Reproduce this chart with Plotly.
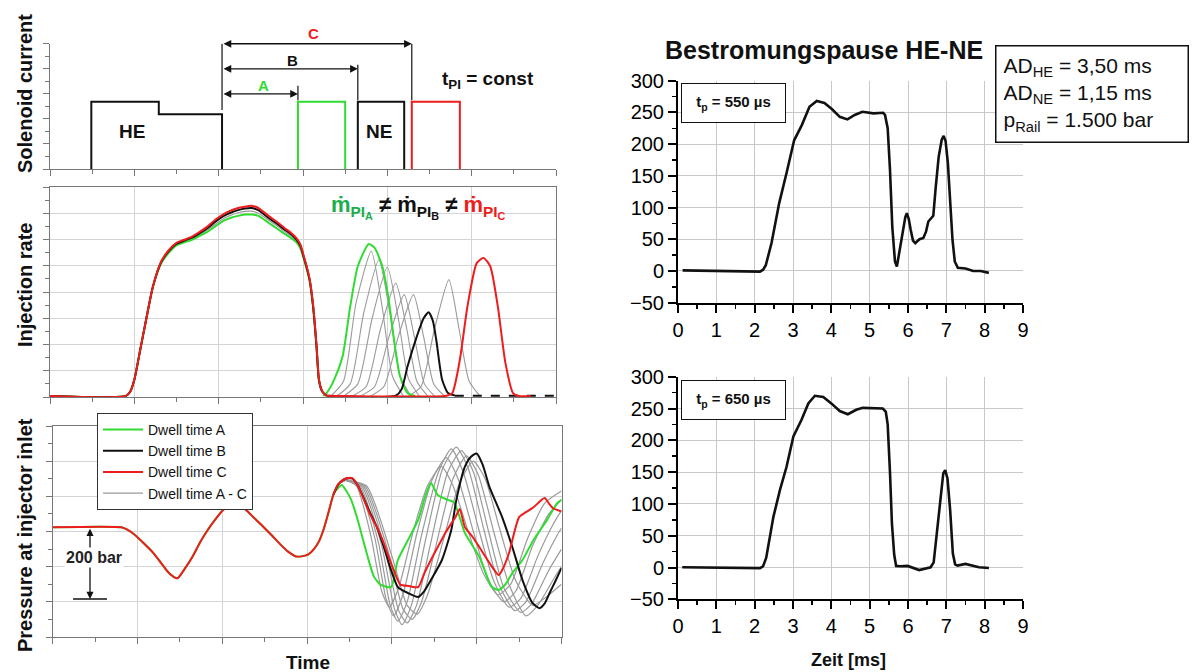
import plotly.graph_objects as go

W, H = 1197, 672


def px_x(p):
    return p / W


def px_y(p):
    return 1 - p / H


FONT = "Liberation Sans, Arial, Helvetica, sans-serif"
GREEN = "#2fdc2f"
GREEN_TXT = "#1aae4c"
RED = "#ee1c1c"
BLACK = "#111111"
GRAY = "#9a9a9a"

# ---------------- data: solenoid current (left top) ----------------
SOL_HE_X = [0.49, 0.49, 1.29, 1.29, 2.04, 2.04]
SOL_HE_Y = [0, 2.69, 2.69, 2.19, 2.19, 0]
SOL_A_X = [2.94, 2.94, 3.50, 3.50]
SOL_B_X = [3.65, 3.65, 4.20, 4.20]
SOL_C_X = [4.29, 4.29, 4.86, 4.86]
SOL_PULSE_Y = [0, 2.69, 2.69, 0]
DWELL_START = 2.04
DWELL_END = {"A": 2.94, "B": 3.65, "C": 4.29}
DWELL_LEVEL = {"A": 3.0, "B": 4.0, "C": 5.0}

# ---------------- data: injection rate (left middle) ----------------
INJ_MAIN_X = [0.0, 0.90, 0.95, 1.00, 1.07, 1.14, 1.22, 1.32, 1.41, 1.50, 1.60, 1.69, 1.78, 1.87,
              1.96, 2.05, 2.14, 2.23, 2.31, 2.39, 2.47, 2.60, 2.70, 2.78, 2.86, 2.92, 2.97, 3.01,
              3.05, 3.08, 3.12, 3.16, 3.19, 3.23, 3.28]
INJ_RED_Y = [0.04, 0.04, 0.2, 0.66, 1.8, 2.95, 4.2, 5.17, 5.6, 5.87, 6.0, 6.12, 6.3, 6.5, 6.75,
             6.95, 7.1, 7.2, 7.25, 7.29, 7.2, 6.88, 6.65, 6.44, 6.25, 6.06, 5.8, 5.36, 4.9, 4.47,
             3.5, 2.0, 0.66, 0.2, 0.05]
INJ_GREEN_Y = [0.04, 0.04, 0.2, 0.66, 1.8, 2.95, 4.2, 5.1, 5.5, 5.78, 5.9, 6.0, 6.15, 6.3, 6.5,
               6.7, 6.82, 6.9, 6.95, 6.95, 6.9, 6.62, 6.4, 6.22, 6.05, 5.9, 5.65, 5.25, 4.8, 4.4,
               3.4, 1.9, 0.6, 0.2, 0.05]
INJ_BLACK_Y = [0.04, 0.04, 0.2, 0.66, 1.8, 2.95, 4.2, 5.15, 5.57, 5.84, 5.97, 6.08, 6.25, 6.44,
               6.68, 6.88, 7.02, 7.12, 7.18, 7.2, 7.12, 6.8, 6.58, 6.38, 6.2, 6.0, 5.75, 5.32,
               4.86, 4.44, 3.45, 1.95, 0.63, 0.2, 0.05]
INJ_GRAY_Y = [0.04, 0.04, 0.2, 0.66, 1.8, 2.95, 4.2, 5.12, 5.53, 5.8, 5.93, 6.04, 6.2, 6.37,
              6.58, 6.78, 6.92, 7.02, 7.07, 7.08, 7.0, 6.72, 6.5, 6.3, 6.12, 5.95, 5.7, 5.3,
              4.83, 4.42, 3.42, 1.92, 0.62, 0.2, 0.05]

INJ_GREEN2_X = [3.24, 3.28, 3.37, 3.47, 3.56, 3.65, 3.78, 3.85, 3.94, 4.01, 4.08, 4.15, 4.24, 4.33]
INJ_GREEN2_Y = [0.04, 0.15, 0.66, 1.55, 3.45, 4.98, 5.83, 5.68, 4.98, 3.83, 2.18, 0.79, 0.15, 0.04]
INJ_BLACK2_X = [3.28, 4.10, 4.17, 4.24, 4.35, 4.43, 4.49, 4.54, 4.58, 4.65, 4.72, 4.80]
INJ_BLACK2_Y = [0.05, 0.05, 0.3, 1.17, 2.31, 3.0, 3.23, 2.9, 2.18, 0.66, 0.15, 0.06]
INJ_BLACK_TAIL_X = [4.80, 6.0]
INJ_BLACK_TAIL_Y = [0.05, 0.05]
INJ_RED2_X = [3.28, 4.70, 4.77, 4.86, 4.95, 5.06, 5.14, 5.22, 5.31, 5.40, 5.49, 5.56, 5.70]
INJ_RED2_Y = [0.05, 0.05, 0.15, 1.42, 3.45, 5.1, 5.3, 4.98, 3.45, 1.3, 0.15, 0.04, 0.04]
INJ_GRAY2 = [
    ([3.33, 3.48, 3.63, 3.81, 3.94, 4.06, 4.19], [0.03, 0.6, 3.6, 5.55, 3.4, 0.8, 0.03]),
    ([3.40, 3.56, 3.72, 3.90, 4.03, 4.15, 4.28], [0.03, 0.5, 3.2, 5.23, 3.2, 0.8, 0.03]),
    ([3.48, 3.65, 3.82, 4.00, 4.13, 4.25, 4.38], [0.03, 0.5, 3.0, 4.95, 3.0, 0.7, 0.03]),
    ([3.58, 3.75, 3.92, 4.10, 4.23, 4.35, 4.48], [0.03, 0.4, 2.6, 4.34, 2.6, 0.6, 0.03]),
    ([3.68, 3.85, 4.02, 4.20, 4.32, 4.44, 4.56], [0.03, 0.4, 2.3, 3.90, 2.3, 0.5, 0.03]),
    ([3.80, 3.96, 4.13, 4.31, 4.43, 4.55, 4.68], [0.03, 0.4, 2.3, 3.90, 2.3, 0.5, 0.03]),
    ([4.25, 4.40, 4.56, 4.73, 4.85, 4.97, 5.10], [0.03, 0.4, 2.6, 4.47, 2.6, 0.6, 0.03]),
]

# ---------------- data: pressure at injector inlet (left bottom) ----------------
P_COMMON_X = [0.0, 0.81, 0.88, 0.97, 1.08, 1.19, 1.28, 1.37, 1.47, 1.56, 1.65, 1.74, 1.83, 1.92,
              2.01, 2.08, 2.15, 2.22, 2.28, 2.37, 2.46, 2.58, 2.69, 2.78, 2.87, 2.95, 3.01, 3.08,
              3.14, 3.20, 3.26, 3.31]
P_COMMON_Y = [3.12, 3.12, 3.05, 2.9, 2.65, 2.38, 2.1, 1.82, 1.67, 1.95, 2.29, 2.7, 3.05, 3.35,
              3.61, 3.72, 3.78, 3.72, 3.61, 3.4, 3.19, 2.9, 2.62, 2.42, 2.29, 2.3, 2.34, 2.5,
              2.72, 3.1, 3.61, 4.05]
P_RED_X = [3.37, 3.45, 3.53, 3.60, 3.67, 3.75, 3.82, 3.90, 3.96, 4.03, 4.10, 4.20, 4.31, 4.38,
           4.46, 4.55, 4.64, 4.72, 4.75, 4.80, 4.86, 4.95, 5.03, 5.18, 5.26, 5.32, 5.38, 5.50,
           5.58, 5.67, 5.80, 5.85, 5.90, 6.0]
P_RED_Y = [4.35, 4.5, 4.52, 4.3, 3.9, 3.45, 3.14, 2.7, 2.29, 1.85, 1.49, 1.45, 1.42, 1.8, 2.19,
           2.6, 3.0, 3.3, 3.41, 3.64, 3.13, 2.85, 2.56, 2.0, 1.76, 2.0, 2.38, 3.41, 3.55, 3.69,
           3.95, 3.8, 3.66, 3.57]
P_GREEN_X = [3.37, 3.41, 3.45, 3.52, 3.60, 3.67, 3.73, 3.79, 3.87, 3.99, 4.07, 4.19, 4.31, 4.39,
             4.46, 4.54, 4.66, 4.73, 4.80, 4.86, 5.03, 5.18, 5.26, 5.34, 5.42, 5.54, 5.67, 5.83,
             5.95, 6.0]
P_GREEN_Y = [4.25, 4.32, 4.2, 3.9, 3.3, 2.67, 2.15, 1.71, 1.48, 1.42, 2.19, 2.76, 3.33, 3.98,
             4.38, 4.04, 3.9, 3.84, 3.4, 2.96, 2.28, 1.42, 1.34, 1.5, 1.82, 2.19, 2.76, 3.33,
             3.81, 3.9]
P_BLACK_X = [3.37, 3.45, 3.53, 3.60, 3.73, 3.82, 3.90, 3.99, 4.07, 4.19, 4.31, 4.38, 4.46, 4.59,
             4.70, 4.76, 4.86, 4.93, 5.00, 5.07, 5.15, 5.30, 5.42, 5.54, 5.66, 5.74, 5.80, 5.86,
             5.93, 6.0]
P_BLACK_Y = [4.35, 4.5, 4.51, 4.3, 3.6, 3.14, 2.6, 1.9, 1.42, 1.25, 1.14, 1.3, 1.62, 2.19, 3.04,
             3.9, 4.84, 5.12, 5.22, 4.9, 4.27, 3.41, 2.56, 1.62, 0.96, 0.82, 0.95, 1.25, 1.6, 1.96]
P_GRAY = [
    ([3.37, 3.45, 3.58, 3.75, 3.88, 3.97, 4.08, 4.25, 4.42, 4.58, 4.72, 4.90, 5.08, 5.25, 5.40, 5.60, 5.80, 6.0],
     [4.35, 4.45, 4.3, 2.9, 1.3, 0.85, 1.4, 3.0, 4.3, 4.85, 4.3, 3.0, 1.8, 1.2, 1.5, 2.8, 3.8, 4.15]),
    ([3.37, 3.45, 3.60, 3.80, 3.93, 4.02, 4.13, 4.30, 4.48, 4.64, 4.78, 4.96, 5.14, 5.32, 5.46, 5.66, 5.85, 6.0],
     [4.35, 4.45, 4.3, 2.8, 1.1, 0.6, 1.2, 3.0, 4.5, 5.1, 4.5, 3.0, 1.6, 1.0, 1.3, 2.6, 3.5, 3.9]),
    ([3.37, 3.45, 3.62, 3.84, 3.98, 4.07, 4.18, 4.35, 4.55, 4.70, 4.84, 5.02, 5.20, 5.38, 5.52, 5.72, 5.90, 6.0],
     [4.35, 4.45, 4.3, 2.7, 0.9, 0.45, 1.0, 2.9, 4.7, 5.35, 4.7, 3.1, 1.6, 0.85, 1.1, 2.3, 3.2, 3.6]),
    ([3.37, 3.45, 3.64, 3.88, 4.03, 4.12, 4.23, 4.40, 4.60, 4.76, 4.90, 5.08, 5.26, 5.45, 5.58, 5.78, 5.95, 6.0],
     [4.35, 4.45, 4.3, 2.6, 0.8, 0.35, 0.9, 2.8, 4.8, 5.4, 4.8, 3.1, 1.5, 0.75, 1.0, 2.1, 2.9, 3.1]),
    ([3.37, 3.45, 3.66, 3.92, 4.08, 4.18, 4.29, 4.46, 4.66, 4.82, 4.96, 5.14, 5.32, 5.52, 5.65, 5.85, 6.0],
     [4.35, 4.45, 4.3, 2.5, 0.75, 0.4, 0.9, 2.7, 4.7, 5.3, 4.7, 3.0, 1.4, 0.7, 0.95, 1.9, 2.5]),
    ([3.37, 3.45, 3.68, 3.96, 4.13, 4.24, 4.35, 4.52, 4.72, 4.88, 5.02, 5.20, 5.38, 5.58, 5.72, 5.92, 6.0],
     [4.35, 4.45, 4.3, 2.4, 0.8, 0.5, 1.0, 2.6, 4.5, 5.15, 4.6, 3.0, 1.5, 0.6, 0.9, 1.7, 2.0]),
    ([3.37, 3.45, 3.70, 4.00, 4.18, 4.30, 4.42, 4.60, 4.80, 4.96, 5.10, 5.28, 5.46, 5.66, 5.80, 6.0],
     [4.35, 4.45, 4.3, 2.3, 0.9, 0.65, 1.2, 2.7, 4.4, 5.0, 4.5, 3.0, 1.6, 0.9, 1.1, 1.5]),
]
LEGEND_NAMES = ["Dwell time A", "Dwell time B", "Dwell time C", "Dwell time A - C"]
BAR_TOP, BAR_BOTTOM = 3.12, 1.08  # 200 bar reference

# ---------------- data: Bestromungspause HE-NE (right) ----------------
TP550_X = [0.12, 1.06, 2.14, 2.22, 2.29, 2.44, 2.64, 2.83, 3.03, 3.23, 3.43, 3.62, 3.82, 4.02,
           4.22, 4.42, 4.61, 4.81, 5.10, 5.35, 5.40, 5.47, 5.53, 5.59, 5.66, 5.71, 5.78, 5.85,
           5.93, 5.97, 6.02, 6.07, 6.13, 6.19, 6.30, 6.40, 6.47, 6.53, 6.60, 6.66, 6.72, 6.80,
           6.88, 6.93, 6.98, 7.04, 7.10, 7.16, 7.22, 7.30, 7.50, 7.70, 7.90, 8.00, 8.11]
TP550_Y = [1, 0.5, -1, 2, 9, 44, 107, 154, 206, 230, 259, 268, 265, 255, 243, 239, 246, 251,
           248.5, 249.5, 246, 225, 160, 70, 15, 7, 30, 55, 85, 91, 82, 65, 48, 44, 50, 52, 62,
           78, 82, 87, 130, 180, 207, 213, 205, 170, 110, 50, 15, 5, 4, 0, 0, -1, -3]
TP650_X = [0.11, 1.10, 2.14, 2.22, 2.30, 2.49, 2.66, 2.83, 3.01, 3.22, 3.40, 3.57, 3.79, 4.00,
           4.22, 4.43, 4.65, 4.82, 5.08, 5.34, 5.42, 5.47, 5.53, 5.58, 5.64, 5.69, 5.80, 5.99,
           6.29, 6.59, 6.67, 6.76, 6.85, 6.92, 6.97, 7.03, 7.10, 7.17, 7.23, 7.29, 7.50, 7.85,
           8.11]
TP650_Y = [0.4, -0.7, -1, 2, 15, 80, 122, 158, 206, 232, 258, 270, 268, 258, 246, 241, 248, 251,
           250, 250, 245, 225, 150, 70, 20, 2.5, 2, 2.5, -4, 0.4, 8, 60, 117, 148, 153, 140, 90,
           22, 5, 3, 5.6, 0.4, -0.7]

# ---------------- figure ----------------
fig = go.Figure()


def line(x, y, xa, ya, color, width=2.0, dash="solid", shape="linear", **kw):
    fig.add_trace(go.Scatter(x=x, y=y, xaxis=xa, yaxis=ya, mode="lines",
                             line=dict(color=color, width=width, dash=dash, shape=shape,
                                       smoothing=0.6 if shape == "spline" else None),
                             hoverinfo="skip", showlegend=kw.pop("showlegend", False), **kw))


# solenoid
line(SOL_HE_X, SOL_HE_Y, "x", "y", BLACK)
line(SOL_A_X, SOL_PULSE_Y, "x", "y", GREEN)
line(SOL_B_X, SOL_PULSE_Y, "x", "y", BLACK)
line(SOL_C_X, SOL_PULSE_Y, "x", "y", RED)

# injection rate
line(INJ_MAIN_X, INJ_GRAY_Y, "x2", "y2", GRAY, 1.2, shape="spline")
for gx, gy in INJ_GRAY2:
    line(gx, gy, "x2", "y2", GRAY, 1.1, shape="spline")
line(INJ_MAIN_X, INJ_GREEN_Y, "x2", "y2", GREEN, 2, shape="spline")
line(INJ_GREEN2_X, INJ_GREEN2_Y, "x2", "y2", GREEN, 2, shape="spline")
line(INJ_MAIN_X, INJ_BLACK_Y, "x2", "y2", BLACK, 2, shape="spline")
line(INJ_BLACK2_X, INJ_BLACK2_Y, "x2", "y2", BLACK, 2, shape="spline")
line(INJ_BLACK_TAIL_X, INJ_BLACK_TAIL_Y, "x2", "y2", BLACK, 2, dash="dash")
line(INJ_MAIN_X, INJ_RED_Y, "x2", "y2", RED, 2, shape="spline")
line(INJ_RED2_X, INJ_RED2_Y, "x2", "y2", RED, 2, shape="spline")

# pressure
for i, (gx, gy) in enumerate(P_GRAY):
    line(P_COMMON_X[-1:] + gx, P_COMMON_Y[-1:] + gy, "x3", "y3", GRAY, 1.2, shape="spline",
         name=LEGEND_NAMES[3], legendgroup="gray", legendrank=4, showlegend=(i == 0))
line(P_COMMON_X + P_GREEN_X, P_COMMON_Y + P_GREEN_Y, "x3", "y3", GREEN, 2, shape="spline",
     name=LEGEND_NAMES[0], legendrank=1, showlegend=True)
line(P_COMMON_X[-1:] + P_BLACK_X, P_COMMON_Y[-1:] + P_BLACK_Y, "x3", "y3", BLACK, 2, shape="spline",
     name=LEGEND_NAMES[1], legendrank=2, showlegend=True)
line(P_COMMON_X + P_RED_X, P_COMMON_Y + P_RED_Y, "x3", "y3", RED, 2, shape="spline",
     name=LEGEND_NAMES[2], legendrank=3, showlegend=True)

# right
line(TP550_X, TP550_Y, "x4", "y4", BLACK, 2.6)
line(TP650_X, TP650_Y, "x5", "y5", BLACK, 2.6)

# ---------------- axes ----------------
def left_x(dom, grid, mirror):
    return dict(domain=dom, range=[0, 6], showgrid=grid, gridcolor="#d4d4d4", gridwidth=1,
                showline=True, linecolor="#777", linewidth=1.2, mirror=mirror,
                ticks="outside", ticklen=6, tickcolor="#777", tickwidth=1, dtick=1, tick0=0,
                showticklabels=False, zeroline=False, fixedrange=True,
                minor=dict(dtick=0.5, ticks="outside", ticklen=4, tickcolor="#777", showgrid=False))


def left_y(dom, rng, grid, mirror):
    return dict(domain=dom, range=rng, showgrid=grid, gridcolor="#d4d4d4", gridwidth=1,
                showline=True, linecolor="#777", linewidth=1.2, mirror=mirror,
                ticks="outside", ticklen=6, tickcolor="#777", tickwidth=1, dtick=1, tick0=0,
                showticklabels=False, zeroline=False, fixedrange=True,
                minor=dict(dtick=0.5, ticks="outside", ticklen=4, tickcolor="#777", showgrid=False))


def right_x(dom):
    return dict(domain=dom, range=[0, 9], dtick=1, tick0=0, showgrid=True, gridcolor="#c8c8c8",
                showline=True, linecolor="black", linewidth=2, ticks="outside", ticklen=8,
                tickwidth=2, tickcolor="black", zeroline=False, fixedrange=True,
                tickfont=dict(size=20, family=FONT, color="black"),
                minor=dict(dtick=0.5, ticks="outside", ticklen=4, tickwidth=1.5,
                           tickcolor="black", showgrid=False))


def right_y(dom):
    return dict(domain=dom, range=[-50, 300], dtick=50, tick0=0, showgrid=True, gridcolor="#c8c8c8",
                showline=True, linecolor="black", linewidth=2, ticks="outside", ticklen=8,
                tickwidth=2, tickcolor="black", zeroline=False, fixedrange=True,
                tickfont=dict(size=20, family=FONT, color="black"),
                minor=dict(dtick=25, ticks="outside", ticklen=4, tickwidth=1.5,
                           tickcolor="black", showgrid=False))


LX = [px_x(50), px_x(556)]
PX = [px_x(52.7), px_x(561.5)]
RX = [px_x(678), px_x(1023)]

fig.update_layout(
    xaxis=dict(left_x(LX, False, False), anchor="y"),
    yaxis=dict(left_y([px_y(169), px_y(43.8)], [0, 5], False, False), anchor="x"),
    xaxis2=dict(left_x(LX, True, True), anchor="y2"),
    yaxis2=dict(left_y([px_y(397), px_y(187)], [0, 8], True, True), anchor="x2"),
    xaxis3=dict(left_x(PX, True, True), anchor="y3"),
    yaxis3=dict(left_y([px_y(637), px_y(426)], [0, 6], True, True), anchor="x3"),
    xaxis4=dict(right_x(RX), anchor="y4"),
    yaxis4=dict(right_y([px_y(302.7), px_y(80.7)]), anchor="x4"),
    xaxis5=dict(right_x(RX), anchor="y5"),
    yaxis5=dict(right_y([px_y(599.3), px_y(376.7)]), anchor="x5"),
)

# ---------------- shapes & annotations ----------------
shapes = []
ann = []


def paper_text(x, y, text, size, color=BLACK, **kw):
    d = dict(xref="paper", yref="paper", x=px_x(x), y=px_y(y), text=text, showarrow=False,
             xanchor="center", yanchor="middle", font=dict(family=FONT, size=size, color=color))
    d.update(kw)
    ann.append(d)


# dwell-time arrows (solenoid panel)
shapes.append(dict(type="line", xref="x", yref="y", x0=DWELL_START, x1=DWELL_START, y0=2.36,
                   y1=DWELL_LEVEL["C"], line=dict(color=BLACK, width=1.2)))
for k, top in (("A", 3.32), ("B", 4.16), ("C", DWELL_LEVEL["C"])):
    shapes.append(dict(type="line", xref="x", yref="y", x0=DWELL_END[k], x1=DWELL_END[k], y0=2.75,
                       y1=top, line=dict(color=BLACK, width=1.2)))
    ann.append(dict(xref="x", yref="y", axref="x", ayref="y", x=DWELL_END[k], y=DWELL_LEVEL[k],
                    ax=DWELL_START, ay=DWELL_LEVEL[k], text="", showarrow=True, arrowhead=2,
                    arrowside="end+start", arrowsize=1.1, arrowwidth=1.4, arrowcolor=BLACK,
                    standoff=0, startstandoff=0))

paper_text(263, 85, "<b>A</b>", 15, GREEN)
paper_text(292, 60, "<b>B</b>", 15)
paper_text(313, 33, "<b>C</b>", 15, RED)
paper_text(132, 132, "<b>HE</b>", 19)
paper_text(379, 132, "<b>NE</b>", 19)
paper_text(488, 80, "<b>t<sub>PI</sub> = const</b>", 19)

# injection rate formula
paper_text(418, 207,
           ("<b><span style='color:%s'>ṁ<sub>PI<sub>A</sub></sub></span> ≠ ṁ<sub>PI<sub>B</sub></sub>"
            " ≠ <span style='color:%s'>ṁ<sub>PI<sub>C</sub></sub></span></b>") % (GREEN_TXT, RED), 22)

# 200 bar marker
ann.append(dict(xref="x3", yref="y3", axref="x3", ayref="y3", x=0.44, y=BAR_BOTTOM, ax=0.44,
                ay=BAR_TOP, text="", showarrow=True, arrowhead=2, arrowside="end+start",
                arrowsize=1.1, arrowwidth=1.3, arrowcolor=BLACK, standoff=0, startstandoff=0))
shapes.append(dict(type="line", xref="x3", yref="y3", x0=0.24, x1=0.64, y0=BAR_BOTTOM,
                   y1=BAR_BOTTOM, line=dict(color=BLACK, width=1.3)))
ann.append(dict(xref="x3", yref="y3", x=0.49, y=2.26, text="<b>200 bar</b>", showarrow=False,
                bgcolor="white", xanchor="center", yanchor="middle",
                font=dict(family=FONT, size=16, color="#222")))

# left axis titles
for txt, yc in (("Solenoid current", 94), ("Injection rate", 285), ("Pressure at injector inlet", 535)):
    paper_text(25, yc, "<b>%s</b>" % txt, 20, textangle=-90)
paper_text(308, 662, "<b>Time</b>", 19)

# right side texts
paper_text(824, 50, "<b>Bestromungspause HE-NE</b>", 25)
ann.append(dict(xref="paper", yref="paper", x=px_x(995), y=px_y(45), xanchor="left", yanchor="top",
                text="AD<sub>HE</sub> = 3,50 ms<br>AD<sub>NE</sub> = 1,15 ms<br>p<sub>Rail</sub> = 1.500 bar",
                align="left", showarrow=False, bgcolor="white", bordercolor=BLACK, borderwidth=1.5,
                borderpad=7, width=177, font=dict(family=FONT, size=21, color=BLACK)))
for tp, ytop in (("550", 83), ("650", 380)):
    ann.append(dict(xref="paper", yref="paper", x=px_x(681), y=px_y(ytop), xanchor="left",
                    yanchor="top", text="<b>t<sub>p</sub> = %s µs</b>" % tp, showarrow=False,
                    bgcolor="white", bordercolor=BLACK, borderwidth=1, borderpad=3, width=97,
                    height=32, font=dict(family=FONT, size=15, color=BLACK)))
paper_text(848, 660, "<b>Zeit [ms]</b>", 18)

fig.update_layout(
    width=W, height=H, margin=dict(l=0, r=0, t=0, b=0, pad=0, autoexpand=False),
    paper_bgcolor="white", plot_bgcolor="white",
    font=dict(family=FONT, color=BLACK),
    shapes=shapes, annotations=ann,
    legend=dict(x=px_x(97), y=px_y(413), xanchor="left", yanchor="top", bgcolor="white",
                bordercolor="#333", borderwidth=1, font=dict(size=14, family=FONT, color=BLACK),
                tracegroupgap=0, itemwidth=40, itemclick=False, itemdoubleclick=False),
    showlegend=True,
)

fig.write_html("out.html", config={"displayModeBar": False, "staticPlot": True},
               post_script="document.body.style.margin='0px';")
